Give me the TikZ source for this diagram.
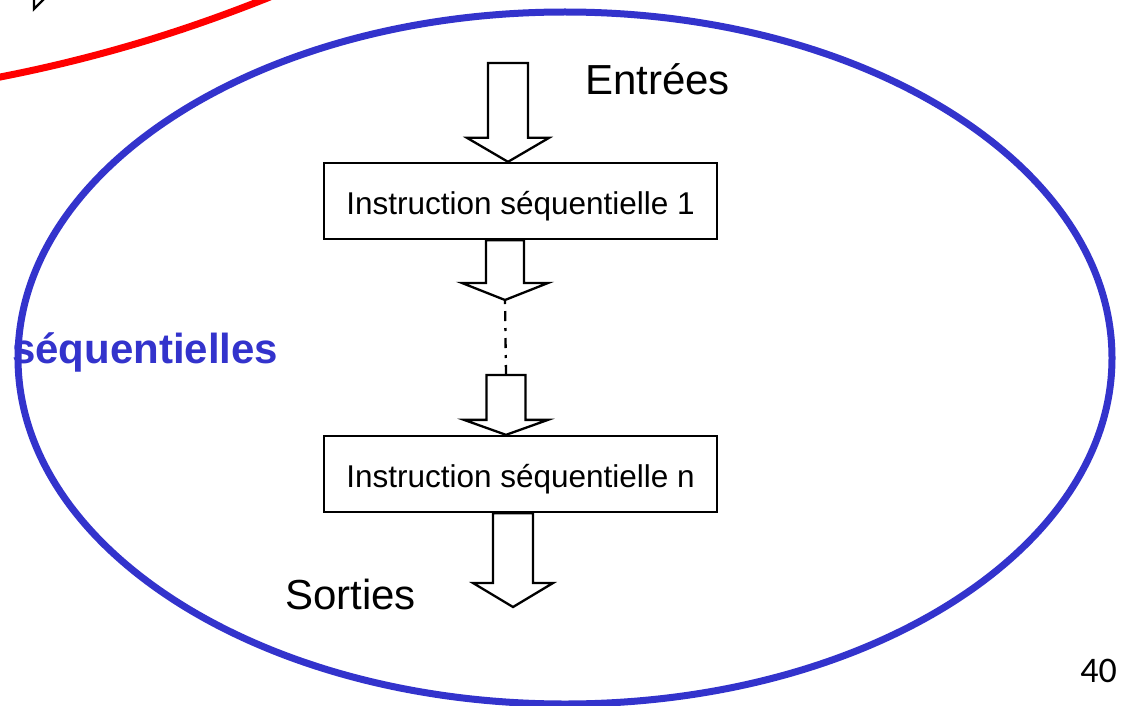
\documentclass[tikz,border=0pt]{standalone}
\usepackage{fontspec}
\setmainfont{Liberation Sans}
\newfontfamily\pagenumfont{Carlito}
\usetikzlibrary{calc}
\definecolor{seqblue}{RGB}{51,51,204}

\tikzset{
  stepbox/.style={draw=black, line width=2.3pt, fill=white, minimum width=393pt,
    minimum height=76pt, inner sep=0pt, text height=26pt, text depth=0pt,
    font=\fontsize{31.5}{36}\selectfont},
  hollow/.style={draw=black, line width=2.3pt, fill=white, line join=miter},
  biglabel/.style={anchor=base west, inner sep=0pt, font=\fontsize{42}{50}\selectfont},
}

% hollow block arrow: #1 start, #2 tip, #3 shaft half width,
% #4 head half width, #5 head length
\newcommand{\blockarrow}[5]{%
  \draw[hollow] ($(#2|-#1)+(-#3,0)$) -- ($(#2)+(-#3,-#5)$) -- ($(#2)+(-#4,-#5)$)
    -- (#2) -- ($(#2)+(#4,-#5)$) -- ($(#2)+(#3,-#5)$) -- ($(#2|-#1)+(#3,0)$) -- cycle;}

\begin{document}
\begin{tikzpicture}[x=1pt, y=-1pt]
  \useasboundingbox (0,0) rectangle (1124,706);
  \clip (0,0) rectangle (1124,706);
  \fill[white] (0,0) rectangle (1124,706);

  % outer frames
  \draw[red, line width=7pt] (-5,78) .. controls (110,56) and (200,25) .. (270,-3);
  \draw[black, line width=2.3pt] (34,-2) -- (34,9) -- (45,-2);
  \draw[seqblue, line width=7pt] (565,358) ellipse [x radius=547, y radius=346];

  % statements
  \node[stepbox] (box1) at (520.5,201) {Instruction séquentielle 1};
  \node[stepbox] (box2) at (520.5,474) {Instruction séquentielle n};

  % arrow anchors
  \coordinate (inStart) at (508,63);
  \coordinate (inTip) at ($(box1.north)+(-12.5,0)$);
  \coordinate (midTip) at (505,300);
  \coordinate (midStart) at (506,375);
  \coordinate (midTipB) at ($(box2.north)+(-14.5,0)$);
  \coordinate (outTip) at (513,607);

  \blockarrow{inStart}{inTip}{20}{41}{24}
  \blockarrow{box1.south}{midTip}{19}{43}{17}
  \blockarrow{midStart}{midTipB}{19.5}{42}{15}
  \blockarrow{box2.south}{outTip}{20}{40}{24}

  % elided statements
  \draw[black, line width=2.3pt, dash pattern=on 10pt off 7pt on 3pt off 7pt]
    (midStart) -- (midTip);

  % labels
  \node[biglabel] (inLabel) at (585,95) {Entrées};
  \node[biglabel] (outLabel) at (285,609) {Sorties};
  \node[biglabel, text=seqblue, font=\fontsize{42}{50}\selectfont\bfseries]
    (seqLabel) at (12,363) {séquentielles};
  \node[anchor=base east, inner sep=0pt, font=\pagenumfont\fontsize{36}{42}\selectfont]
    (pageNum) at (1117,682) {40};
\end{tikzpicture}
\end{document}
